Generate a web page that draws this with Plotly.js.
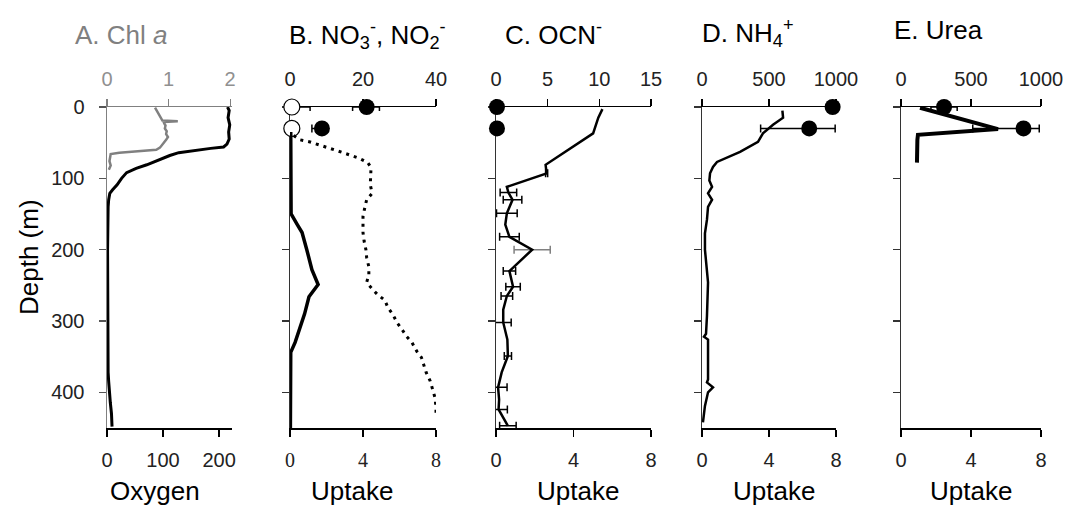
<!DOCTYPE html>
<html><head><meta charset="utf-8">
<script src="https://cdn.plot.ly/plotly-3.0.1.min.js"></script>
<style>html,body{margin:0;padding:0;background:#fff}#chart{width:1069px;height:508px}</style>
</head><body><div id="chart"></div>
<script>
// ---------- DATA ----------
const depthTicks = [0, 100, 200, 300, 400];

// Panel A
const oxyDepth = [0, 5, 15, 25, 35, 45, 52, 56, 58, 61, 64, 68, 72, 76, 81, 86, 92, 100, 109, 116, 121, 130, 140, 200, 300, 360, 372, 385, 400, 415, 430, 448];
const oxyVal   = [215, 218, 216, 219, 217, 218, 214, 208, 185, 155, 128, 112, 100, 88, 71, 52, 35, 26, 18, 10, 5, 3, 2, 1, 1, 1, 2, 3, 4, 6, 8, 9];
const chlDepth = [1, 4, 8, 11, 14, 17, 19, 20, 21, 23, 26, 30, 34, 38, 42, 46, 50, 54, 57, 60, 62, 64, 66, 70, 76, 82, 88];
const chlVal   = [0.78, 0.80, 0.84, 0.86, 0.88, 0.89, 0.90, 1.15, 0.92, 0.93, 0.95, 0.94, 0.97, 0.96, 0.99, 0.96, 0.92, 0.88, 0.86, 0.80, 0.50, 0.20, 0.06, 0.05, 0.04, 0.06, 0.03];

// Panel B
const no3Depth = [40, 46, 49, 56, 64, 72, 78, 85, 98, 109, 121, 130, 141, 153, 165, 176, 188, 200, 211, 224, 235, 246, 255, 263, 271, 281, 291, 302, 312, 322, 330, 343, 351, 372, 384, 396, 407, 421, 432];
const no3Val   = [1.0, 2.7, 5.5, 10, 14.5, 19, 21.3, 22.2, 22.2, 22, 22.5, 21, 20.5, 20, 20, 20, 20.3, 20.8, 21, 21.6, 21.6, 21, 22.5, 24, 26, 26.8, 28.2, 29.3, 30.7, 32, 33.4, 34.8, 36, 37.3, 38.4, 39, 39.7, 40, 40];
const no2Depth = [35, 60, 100, 150, 165, 176, 200, 228, 249, 266, 290, 315, 330, 344, 400, 450];
const no2Val   = [0.2, 0.2, 0.2, 0.3, 2.0, 3.3, 4.6, 6.0, 7.7, 5.2, 4.0, 2.5, 1.4, 0.2, 0.1, 0.1];
const upDepth  = [0, 30];
const bFilled  = [4.2, 1.75];
const bFilledPlus  = [0.7, 0.3];
const bFilledMinus = [0.77, 0.55];
const bOpen    = [0.1, 0.1];
const bOpenErr = [1.0, 0];

// Panel C
const ocnDepth = [3, 15, 37, 81, 93, 112, 120, 130, 149, 165, 182, 200, 230, 252, 265, 284, 302, 326, 349, 372, 393, 410, 424, 447];
const ocnVal   = [10.3, 9.9, 9.4, 4.8, 4.9, 1.05, 1.2, 1.6, 1.05, 0.9, 1.3, 3.5, 1.3, 1.65, 1.05, 0.7, 0.7, 1.1, 1.15, 0.55, 0.2, 0.3, 0.25, 1.15];
const ocnErrDepth = [93, 120, 130, 149, 182, 230, 252, 265, 302, 349, 393, 424, 447];
const ocnErrVal   = [4.9, 1.2, 1.6, 1.05, 1.3, 1.3, 1.65, 1.05, 0.7, 1.15, 0.2, 0.3, 1.15];
const ocnErr      = [0.1, 0.8, 0.9, 1.0, 0.95, 0.6, 0.7, 0.56, 0.77, 0.35, 0.87, 0.8, 0.8];
const ocnErr2Depth = [200];
const ocnErr2Val   = [3.5];
const ocnErr2      = [1.75];
const cUptake = [0.05, 0.05];

// Panel D
const nh4Depth = [5, 15, 25, 37, 49, 63, 77, 84, 93, 103, 112, 121, 130, 140, 158, 177, 200, 246, 293, 318, 322, 326, 382, 386, 393, 400, 419, 442];
const nh4Val   = [600, 605, 530, 455, 418, 284, 112, 82, 60, 55, 75, 45, 75, 45, 37, 22, 22, 45, 37, 30, 15, 45, 45, 37, 82, 45, 22, 7];
const dUptake  = [7.8, 6.4];
const dPlus    = [0, 1.55];
const dMinus   = [0, 2.9];

// Panel E
const ureaDepth = [1, 31, 39, 46, 78];
const ureaVal   = [136, 693, 121, 117, 114];
const eUptake   = [2.46, 7.0];
const ePlus     = [0.75, 0.9];
const eMinus    = [0.75, 2.9];

// Tick values
const bottomTicksA = [0, 100, 200];
const topTicksA = [0, 1, 2];
const uptakeTicks = [0, 4, 8];
const topTicksB = [0, 20, 40];
const topTicksC = [0, 5, 10, 15];
const topTicksDE = [0, 500, 1000];

// ---------- LAYOUT ----------
const W = 1069, H = 508;
const panelPx = [[107, 232], [290, 436], [496, 651], [702, 836], [901, 1041]];
const yTopPx = 107, yBotPx = 428;
const yDom = [(H - yBotPx) / H, (H - yTopPx) / H];
const FONT = 'Liberation Sans, Arial, sans-serif';

const bottomRanges = [[0, 223], [0, 8], [0, 8], [0, 8], [0, 8]];
const topRanges = [[0, 2.03], [0, 40], [0, 15], [0, 1000], [0, 1000]];
const bottomTicks = [bottomTicksA, uptakeTicks, uptakeTicks, uptakeTicks, uptakeTicks];
const topTicks = [topTicksA, topTicksB, topTicksC, topTicksDE, topTicksDE];

const layout = {
  width: W, height: H,
  margin: {l: 0, r: 0, t: 0, b: 0},
  paper_bgcolor: '#fff', plot_bgcolor: 'rgba(0,0,0,0)',
  showlegend: false,
  font: {family: FONT, color: '#000', size: 20},
  annotations: []
};

function axBase() {
  return {showgrid: false, zeroline: false, showline: true, ticks: 'outside',
          ticklen: 7, tickwidth: 1.3, linewidth: 1.5, fixedrange: true, layer: 'below traces'};
}

for (let i = 0; i < 5; i++) {
  const bId = 'x' + (2 * i + 1 === 1 ? '' : 2 * i + 1);
  const yId = 'y' + (i === 0 ? '' : i + 1);
  const dom = [panelPx[i][0] / W, panelPx[i][1] / W];
  const isA = i === 0;
  layout['xaxis' + (2 * i + 1 === 1 ? '' : 2 * i + 1)] = Object.assign(axBase(), {
    domain: dom, anchor: yId, side: 'bottom', range: bottomRanges[i],
    tickmode: 'array', tickvals: bottomTicks[i],
    linecolor: '#000', tickcolor: '#000',
    ticklabelstandoff: 6,
    tickfont: {family: i === 1 ? 'Liberation Serif, Times New Roman, serif' : FONT, size: 20, color: '#222'}
  });
  layout['xaxis' + (2 * i + 2)] = Object.assign(axBase(), {
    domain: dom, anchor: yId, overlaying: bId, side: 'top', range: topRanges[i],
    tickmode: 'array', tickvals: topTicks[i],
    linecolor: isA ? '#808080' : '#000', tickcolor: isA ? '#808080' : '#000',
    ticklabelstandoff: 5,
    tickfont: {family: FONT, size: 20, color: isA ? '#909090' : '#222'}
  });
  layout['yaxis' + (i === 0 ? '' : i + 1)] = Object.assign(axBase(), {
    domain: yDom, anchor: bId, range: [450, 0],
    tickmode: 'array', tickvals: depthTicks,
    showticklabels: isA,
    linecolor: isA ? '#808080' : '#333', tickcolor: isA ? '#555' : '#333',
    ticklabelstandoff: 10,
    tickfont: {family: FONT, size: 20, color: '#222'}
  });
}

// Titles and labels
const titles = [
  {text: 'A. Chl <i>a</i>', x: 73, y: 35, color: '#808080'},
  {text: 'B. NO<sub>3</sub><sup>-</sup>, NO<sub>2</sub><sup>-</sup>', x: 287, y: 35, color: '#000'},
  {text: 'C. OCN<sup>-</sup>', x: 503, y: 33, color: '#000'},
  {text: 'D. NH<sub>4</sub><sup>+</sup>', x: 700, y: 33, color: '#000'},
  {text: 'E. Urea', x: 892, y: 30, color: '#000'}
];
titles.forEach(t => layout.annotations.push({
  text: t.text, xref: 'paper', yref: 'paper', x: t.x / W, y: 1 - t.y / H,
  xanchor: 'left', yanchor: 'middle', showarrow: false,
  font: {family: FONT, size: 26, color: t.color}
}));
const xLabels = [
  {text: 'Oxygen', x: 155}, {text: 'Uptake', x: 352}, {text: 'Uptake', x: 578},
  {text: 'Uptake', x: 774}, {text: 'Uptake', x: 971}
];
xLabels.forEach(t => layout.annotations.push({
  text: t.text, xref: 'paper', yref: 'paper', x: t.x / W, y: 1 - 491 / H,
  xanchor: 'center', yanchor: 'middle', showarrow: false,
  font: {family: FONT, size: 26, color: '#000'}
}));
layout.annotations.push({
  text: 'Depth (m)', xref: 'paper', yref: 'paper', x: 29 / W, y: 1 - 257 / H,
  xanchor: 'center', yanchor: 'middle', showarrow: false, textangle: -90,
  font: {family: FONT, size: 26, color: '#000'}
});

// ---------- TRACES ----------
const line = (x, y, xa, ya, color, width, dash) => ({
  type: 'scatter', mode: 'lines', x: x, y: y, xaxis: xa, yaxis: ya, cliponaxis: false,
  line: {color: color, width: width, dash: dash || 'solid'}, hoverinfo: 'skip'
});
const errX = (plus, minus, color) => ({
  type: 'data', symmetric: false, array: plus, arrayminus: minus,
  color: color || '#000', thickness: 1.5, width: 4, visible: true
});
const pts = (x, y, xa, ya, marker, err) => {
  const t = {type: 'scatter', mode: 'markers', x: x, y: y, xaxis: xa, yaxis: ya,
             cliponaxis: false, marker: marker, hoverinfo: 'skip'};
  if (err) t.error_x = err;
  return t;
};

const data = [
  // A
  line(chlVal, chlDepth, 'x2', 'y', '#808080', 2.5),
  line(oxyVal, oxyDepth, 'x', 'y', '#000', 3),
  // B
  line(no3Val, no3Depth, 'x4', 'y2', '#000', 3, '3px,5px'),
  line(no2Val, no2Depth, 'x4', 'y2', '#000', 3.5),
  pts(bOpen, upDepth, 'x3', 'y2', {size: 16, color: '#fff', line: {color: '#000', width: 1.2}}, errX(bOpenErr, [0, 0])),
  pts(bFilled, upDepth, 'x3', 'y2', {size: 16, color: '#000'}, errX(bFilledPlus, bFilledMinus)),
  // C
  pts(ocnErrVal, ocnErrDepth, 'x6', 'y3', {size: 1, color: 'rgba(0,0,0,0)'}, errX(ocnErr, ocnErr)),
  pts(ocnErr2Val, ocnErr2Depth, 'x6', 'y3', {size: 1, color: 'rgba(0,0,0,0)'}, errX(ocnErr2, ocnErr2, '#808080')),
  line(ocnVal, ocnDepth, 'x6', 'y3', '#000', 2.5),
  pts(cUptake, upDepth, 'x5', 'y3', {size: 16, color: '#000'}),
  // D
  line(nh4Val, nh4Depth, 'x8', 'y4', '#000', 2.5),
  pts(dUptake, upDepth, 'x7', 'y4', {size: 16, color: '#000'}, errX(dPlus, dMinus)),
  // E
  line(ureaVal, ureaDepth, 'x10', 'y5', '#000', 4),
  pts(eUptake, upDepth, 'x9', 'y5', {size: 16, color: '#000'}, errX(ePlus, eMinus))
];

Plotly.newPlot('chart', data, layout, {staticPlot: true});
</script>
</body></html>
